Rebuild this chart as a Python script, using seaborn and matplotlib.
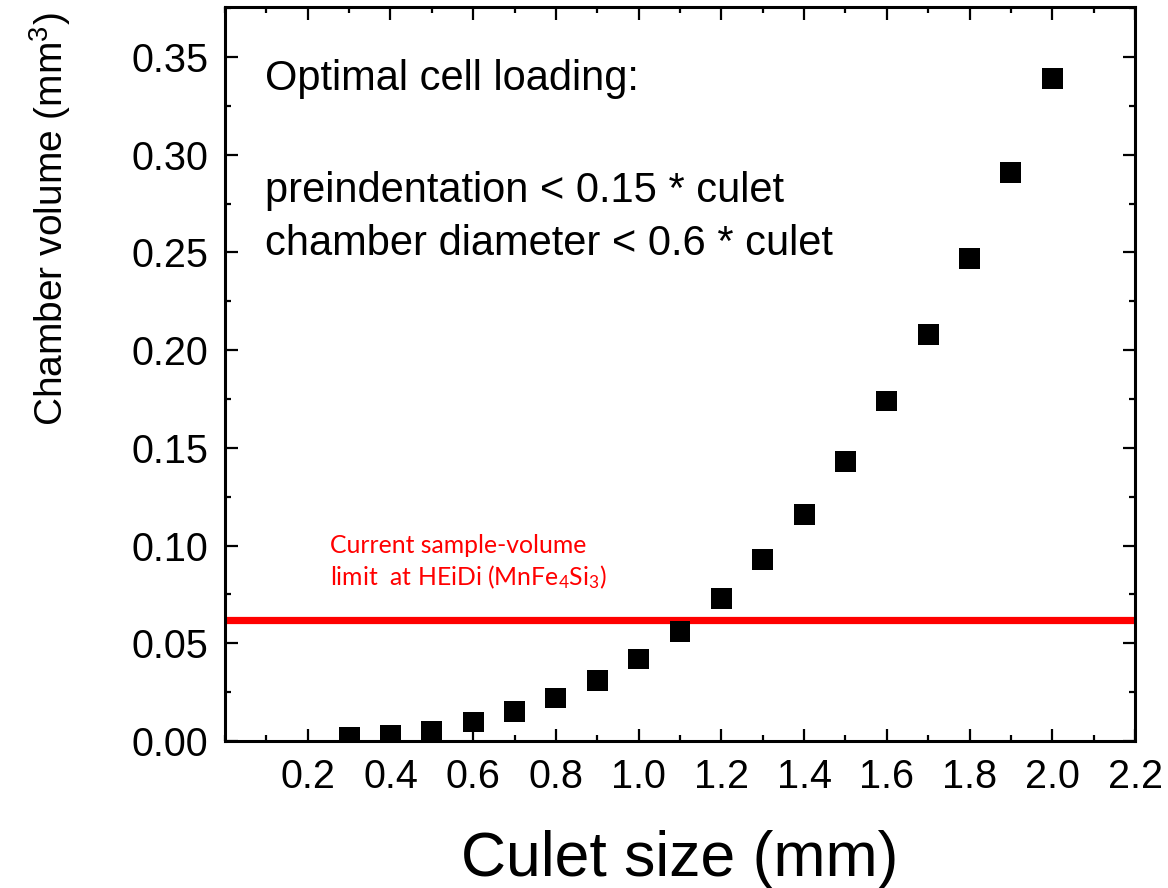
import numpy as np
import pandas as pd
import matplotlib
matplotlib.use("Agg")
import matplotlib.pyplot as plt
import seaborn as sns
from matplotlib.ticker import MultipleLocator

culet = [0.3, 0.4, 0.5, 0.6, 0.7, 0.8, 0.9, 1.0, 1.1, 1.2, 1.3, 1.4, 1.5, 1.6, 1.7, 1.8, 1.9, 2.0]
volume = [0.002, 0.003, 0.005, 0.0097, 0.015, 0.022, 0.031, 0.042, 0.056, 0.073, 0.093,
          0.116, 0.143, 0.174, 0.208, 0.247, 0.291, 0.339]
limit_value = 0.062
x_ticks = [0.2, 0.4, 0.6, 0.8, 1.0, 1.2, 1.4, 1.6, 1.8, 2.0, 2.2]
y_ticks = [0.00, 0.05, 0.10, 0.15, 0.20, 0.25, 0.30, 0.35]

sns.set_style("ticks")
plt.rcParams['font.family'] = ['Liberation Sans', 'DejaVu Sans']
plt.rcParams['text.color'] = 'black'
plt.rcParams['axes.labelcolor'] = 'black'
plt.rcParams['xtick.color'] = 'black'
plt.rcParams['ytick.color'] = 'black'

df = pd.DataFrame({"culet": culet, "volume": volume})

fig = plt.figure(figsize=(11.68, 8.88), dpi=100)
ax = fig.add_axes([225/1168, 1 - 741/888, 910/1168, 734/888])

sns.scatterplot(data=df, x="culet", y="volume", marker="s", s=15**2, color="black",
                edgecolor="none", linewidth=0, ax=ax, zorder=3)
ax.axhline(limit_value, color="#ff0000", lw=5.2, zorder=2)

ax.set_xlim(0, 2.2)
ax.set_ylim(0, 0.3756)
ax.set_xticks(x_ticks)
ax.set_xticklabels([f"{v:.1f}" for v in x_ticks])
ax.set_yticks(y_ticks)
ax.set_yticklabels([f"{v:.2f}" for v in y_ticks])
ax.xaxis.set_minor_locator(MultipleLocator(0.1))
ax.yaxis.set_minor_locator(MultipleLocator(0.025))
ax.tick_params(which="both", direction="in", top=True, right=True, width=1.6, colors="black")
ax.tick_params(which="major", length=9, labelsize=28.5, pad=12)
ax.tick_params(which="minor", length=4.5)
for s in ax.spines.values():
    s.set_linewidth(2.2)
    s.set_color("black")

ax.set_xlabel("Culet size (mm)", fontsize=45, labelpad=25)
ax.set_ylabel(r"Chamber volume (mm$\mathregular{^3}$)", fontsize=28)
ax.yaxis.set_label_coords(-0.167, 0.711)

ax.text(265 / 1168, 1 - 90 / 888, "Optimal cell loading:", transform=fig.transFigure,
        fontsize=30, ha="left", va="baseline")
ax.text(0.044, 0.734, "preindentation < 0.15 * culet", transform=ax.transAxes, fontsize=30,
        ha="left", va="baseline")
ax.text(0.044, 0.662, "chamber diameter < 0.6 * culet", transform=ax.transAxes, fontsize=30,
        ha="left", va="baseline")
ax.text(0.115, (741 - 553) / 734, "Current sample-volume",
        transform=ax.transAxes, fontsize=17.8, color="#ff0000", family=["Lato", "DejaVu Sans"],
        ha="left", va="baseline")
ax.text(0.115, (741 - 585) / 734, r"limit  at HEiDi (MnFe$\mathregular{_4}$Si$\mathregular{_3}$)",
        transform=ax.transAxes, fontsize=17.8, color="#ff0000", family=["Lato", "DejaVu Sans"],
        ha="left", va="baseline")

fig.savefig("out.png", dpi=100)
